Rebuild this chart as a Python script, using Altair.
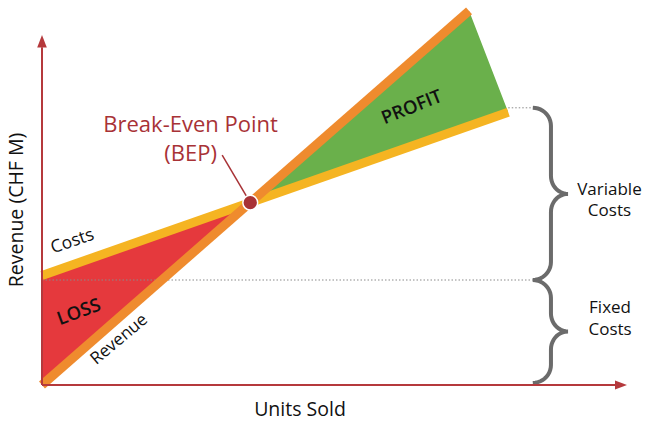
import altair as alt
import pandas as pd
import numpy as np

# ---- data (chart units) ----
revenue_units = [0, 73.0]
revenue_values = [0, 106.9]
cost_units = [0, 79.7]
cost_values = [31.3, 77.9]
bep_units = [35.6]
bep_values = [52.1]
loss_units = [0, 35.6]
loss_top = [31.3, 52.1]
loss_bottom = [0, 52.1]
profit_units = [35.6, 73.0, 79.7]
profit_top = [52.1, 106.9, 77.9]
profit_bottom = [52.1, 74.0, 77.9]
fixed_cost_level = 30.0
total_cost_level = 79.2

# ---- layout helpers ----
W, H = 585, 350
XD, YD = 100.0, 100.0
PXU, PYU = W / XD, H / YD  # px per unit

RED = "#e5393d"
GREEN = "#6ab04b"
ORANGE = "#ef8b2e"
YELLOW = "#f5b422"
DARKRED = "#a83236"
AXRED = "#b5393c"
GREY = "#6b6b6b"
FONT = "Open Sans"

xs = alt.Scale(domain=[0, XD], nice=False, zero=False)
ys = alt.Scale(domain=[0, YD], nice=False, zero=False)


def X(f="u"):
    return alt.X(f"{f}:Q", scale=xs, axis=None)


def Y(f="v"):
    return alt.Y(f"{f}:Q", scale=ys, axis=None)


loss_df = pd.DataFrame({"u": loss_units, "v": loss_top, "v2": loss_bottom})
profit_df = pd.DataFrame({"u": profit_units, "v": profit_top, "v2": profit_bottom})
rev_df = pd.DataFrame({"u": revenue_units, "v": revenue_values})
cost_df = pd.DataFrame({"u": cost_units, "v": cost_values})
bep_df = pd.DataFrame({"u": bep_units, "v": bep_values})

brace_x0 = 83.9
brace_x1 = 87.0
brace_x2 = 89.9
brace_ry = 18 / PYU

dotted_df = pd.DataFrame({
    "u": [0, cost_units[1]],
    "u2": [brace_x0, brace_x0],
    "v": [fixed_cost_level, total_cost_level],
})


def brace(vt, vb, name):
    vm = (vt + vb) / 2
    th = np.linspace(0, np.pi / 2, 12)
    a = brace_x1 - brace_x0
    b = brace_x2 - brace_x1
    r = brace_ry
    pts = []
    pts += [(brace_x0 + a * np.sin(t), vt - r + r * np.cos(t)) for t in th]
    pts += [(brace_x2 - b * np.cos(t), vm + r - r * np.sin(t)) for t in th]
    pts += [(brace_x2 - b * np.sin(t), vm - r + r * np.cos(t)) for t in th]
    pts += [(brace_x0 + a * np.cos(t), vb + r - r * np.sin(t)) for t in th]
    return pd.DataFrame({"u": [p[0] for p in pts], "v": [p[1] for p in pts],
                         "o": list(range(len(pts))), "g": name})


brace_df = pd.concat([brace(total_cost_level, fixed_cost_level, "var"),
                      brace(fixed_cost_level, 0.6, "fix")])

loss = alt.Chart(loss_df).mark_area(color=RED, opacity=1).encode(x=X(), y=Y(), y2="v2")
profit = alt.Chart(profit_df).mark_area(color=GREEN, opacity=1).encode(x=X(), y=Y(), y2="v2")
dotted = alt.Chart(dotted_df).mark_rule(color="#8a8a8a", strokeWidth=1, strokeDash=[1.5, 2]).encode(
    x=X(), x2="u2", y=Y())
cost_line = alt.Chart(cost_df).mark_line(color=YELLOW, strokeWidth=9, strokeCap="butt").encode(x=X(), y=Y())
rev_line = alt.Chart(rev_df).mark_line(color=ORANGE, strokeWidth=9, strokeCap="butt").encode(x=X(), y=Y())

leader_df = pd.DataFrame({"u": [30.8], "v": [65.7], "u2": bep_units, "v2": bep_values})
leader = alt.Chart(leader_df).mark_rule(color=DARKRED, strokeWidth=1.5).encode(
    x=X(), y=Y(), x2="u2", y2="v2")
bep = alt.Chart(bep_df).mark_circle(size=220, color=DARKRED, opacity=1, stroke="white",
                                    strokeWidth=1.5).encode(x=X(), y=Y())

braces = alt.Chart(brace_df).mark_line(color=GREY, strokeWidth=4, strokeCap="butt").encode(
    x=X(), y=Y(), order="o:Q", detail="g:N")

# axes
axis_lines_df = pd.DataFrame({"u": [0, 0], "v": [0, 0], "u2": [0, 98.0], "v2": [96.5, 0]})
axis_lines = alt.Chart(axis_lines_df).mark_rule(color=AXRED, strokeWidth=2).encode(
    x=X(), y=Y(), x2="u2", y2="v2")
arrow_up = alt.Chart(pd.DataFrame({"u": [0], "v": [100]})).mark_point(
    shape="M-0.8,2.1L0,0L0.8,2.1Z", size=144, filled=True, color=AXRED, opacity=1).encode(x=X(), y=Y())
arrow_right = alt.Chart(pd.DataFrame({"u": [100], "v": [0]})).mark_point(
    shape="M-2,-0.75L0,0L-2,0.75Z", size=144, filled=True, color=AXRED, opacity=1).encode(x=X(), y=Y())

# texts
def txt(df, **kw):
    base = dict(font=FONT, align="center", baseline="middle")
    base.update(kw)
    return alt.Chart(df).mark_text(**base).encode(
        x=X(), y=Y(), text="t:N", angle=alt.Angle("a:Q", scale=None))


bep_text = txt(pd.DataFrame({"t": ["Break-Even Point", "(BEP)"], "u": [25.4, 25.4],
                             "v": [74.3, 66.0], "a": [0, 0]}), fontSize=22, color=DARKRED)
costs_label = txt(pd.DataFrame({"t": ["Costs"], "u": [5.2], "v": [41.0], "a": [341]}),
                  fontSize=17.5, color="#111")
revenue_label = txt(pd.DataFrame({"t": ["Revenue"], "u": [13.2], "v": [13.0], "a": [320]}),
                    fontSize=17, color="#111")
region_labels = txt(pd.DataFrame({"t": ["LOSS", "PROFIT"], "u": [6.3, 63.2], "v": [20.9, 79.4],
                                  "a": [340, 338]}), fontSize=18.5, color="#111", fontWeight=600)
side_labels = txt(pd.DataFrame({"t": ["Variable", "Costs", "Fixed", "Costs"],
                                "u": [97.0, 97.0, 97.1, 97.1],
                                "v": [55.8, 49.6, 22.0, 15.6], "a": [0, 0, 0, 0]}),
                  fontSize=17, color="#111")
axis_titles = txt(pd.DataFrame({"t": ["Units Sold", "Revenue (CHF M)"], "u": [44.1, -4.3],
                                "v": [-7.2, 50.0], "a": [0, 270]}),
                  fontSize=19.5, color="#111", fontWeight=500)

chart = alt.layer(
    loss, profit, dotted, cost_line, rev_line, leader, bep,
    braces, axis_lines, arrow_up, arrow_right,
    bep_text, costs_label, revenue_label, region_labels, side_labels, axis_titles,
).properties(
    width=W, height=H,
    padding={"left": 42, "top": 35, "right": 18, "bottom": 39},
    autosize=alt.AutoSizeParams(type="none"),
    background="white",
).configure_view(stroke=None)

chart.save("out.html", embed_options={"renderer": "svg", "actions": False})
